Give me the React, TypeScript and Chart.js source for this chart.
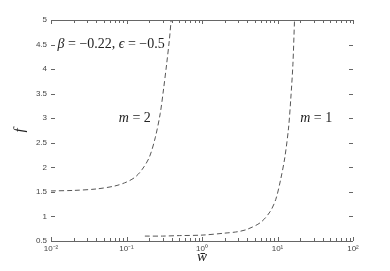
import React, { useEffect, useRef } from "react";
import { Chart, registerables } from "chart.js";

Chart.register(...registerables);

const m2W = [0.01, 0.02, 0.04, 0.07, 0.1, 0.13, 0.16, 0.2, 0.24, 0.28, 0.31, 0.34, 0.37, 0.39];
const m2F = [1.52, 1.53, 1.56, 1.62, 1.7, 1.8, 1.95, 2.2, 2.6, 3.1, 3.6, 4.1, 4.6, 5.0];

const m1W = [0.175, 0.3, 0.5, 1, 2, 3, 4, 6, 8, 9.5, 11, 12.5, 14, 15, 16, 16.8];
const m1F = [0.6, 0.6, 0.61, 0.62, 0.66, 0.69, 0.74, 0.88, 1.1, 1.35, 1.75, 2.2, 2.8, 3.4, 4.1, 5.0];

const yTicks = [0.5, 1, 1.5, 2, 2.5, 3, 3.5, 4, 4.5, 5];
const xDecades = [0.01, 0.1, 1, 10, 100];
const xDecadeLabels = ["10\u207B\u00B2", "10\u207B\u00B9", "10\u2070", "10\u00B9", "10\u00B2"];

const annotations = [
  { w: 0.0122, f: 4.5, parts: [["\u03B2", true], [" = \u22120.22, ", false], ["\u03F5", true], [" = \u22120.5", false]] },
  { w: 0.079, f: 3, parts: [["m", true], [" = 2", false]] },
  { w: 20, f: 3, parts: [["m", true], [" = 1", false]] },
];

const LINE = "#555";

const framePlugin = {
  id: "frame",
  afterDraw(chart: any) {
    const { ctx, chartArea } = chart;
    const xs = chart.scales.x;
    const ys = chart.scales.y;
    const { left, right, top, bottom } = chartArea;
    ctx.save();
    ctx.strokeStyle = "#666";
    ctx.lineWidth = 1;
    ctx.beginPath();
    ctx.moveTo(left, Math.round(bottom) + 0.5);
    ctx.lineTo(right, Math.round(bottom) + 0.5);
    ctx.moveTo(left, Math.round(top) + 0.5);
    ctx.lineTo(right, Math.round(top) + 0.5);
    for (let d = -2; d < 2; d++) {
      for (let k = 1; k <= 10; k++) {
        const v = k * Math.pow(10, d);
        const px = Math.round(xs.getPixelForValue(v)) + 0.5;
        const len = k === 1 || k === 10 ? 4 : 3;
        ctx.moveTo(px, bottom);
        ctx.lineTo(px, bottom - len);
        ctx.moveTo(px, top);
        ctx.lineTo(px, top + len);
      }
    }
    for (const t of yTicks) {
      const py = Math.round(ys.getPixelForValue(t)) + 0.5;
      ctx.moveTo(left, py);
      ctx.lineTo(left + 4, py);
      ctx.moveTo(right, py);
      ctx.lineTo(right - 4, py);
    }
    ctx.stroke();

    ctx.fillStyle = "#222";
    ctx.textBaseline = "middle";
    for (const a of annotations) {
      let x = xs.getPixelForValue(a.w);
      const y = ys.getPixelForValue(a.f);
      for (const [txt, it] of a.parts as any) {
        ctx.font = (it ? "italic " : "") + "14px 'Liberation Serif'";
        ctx.fillText(txt, x, y);
        x += ctx.measureText(txt).width;
      }
    }
    ctx.restore();
  },
};

export default function App() {
  const ref = useRef<HTMLCanvasElement>(null);
  useEffect(() => {
    const canvas = ref.current!;
    const chart = new Chart(canvas, {
      type: "line",
      data: {
        datasets: [
          {
            label: "m=2",
            data: m2W.map((w, i) => ({ x: w, y: m2F[i] })),
            borderColor: LINE,
            borderWidth: 1,
            borderDash: [5, 3],
            pointRadius: 0,
            fill: false,
            tension: 0.3,
          },
          {
            label: "m=1",
            data: m1W.map((w, i) => ({ x: w, y: m1F[i] })),
            borderColor: LINE,
            borderWidth: 1,
            borderDash: [5, 3],
            pointRadius: 0,
            fill: false,
            tension: 0.3,
          },
        ],
      },
      options: {
        animation: false,
        responsive: false,
        maintainAspectRatio: false,
        layout: { padding: { top: 20, right: 37, left: 0, bottom: 0 } },
        plugins: { legend: { display: false }, tooltip: { enabled: false } },
        scales: {
          x: {
            type: "logarithmic",
            min: 0.01,
            max: 100,
            grid: { display: false, drawTicks: false },
            border: { display: false },
            afterBuildTicks: (s: any) => {
              s.ticks = xDecades.map((v) => ({ value: v }));
            },
            afterFit: (s: any) => {
              s.height = 30;
            },
            ticks: {
              autoSkip: false,
              maxRotation: 0,
              padding: 3,
              color: "#444",
              font: { family: "'Liberation Sans'", size: 8 },
              callback: (v: any) => {
                const i = xDecades.findIndex((d) => Math.abs(d - v) / d < 1e-6);
                return i >= 0 ? xDecadeLabels[i] : "";
              },
            },
            title: {
              display: true,
              text: "w\u0304",
              color: "#222",
              font: { family: "'Liberation Serif'", size: 15, style: "italic" },
              padding: { top: 0, bottom: 5 },
            },
          },
          y: {
            type: "linear",
            min: 0.5,
            max: 5,
            grid: { display: false, drawTicks: false },
            border: { display: false },
            afterBuildTicks: (s: any) => {
              s.ticks = yTicks.map((v) => ({ value: v }));
            },
            afterFit: (s: any) => {
              s.width = 51;
            },
            ticks: {
              padding: 4,
              color: "#444",
              font: { family: "'Liberation Sans'", size: 8 },
              callback: (v: any) => String(v),
            },
            title: {
              display: true,
              text: "f",
              color: "#222",
              font: { family: "'Liberation Serif'", size: 15, style: "italic" },
              padding: { top: 11, bottom: 0 },
            },
          },
        },
      },
      plugins: [framePlugin],
    } as any);
    return () => chart.destroy();
  }, []);
  return (
    <div style={{ position: "absolute", left: 0, top: 0, width: 390, height: 271, background: "#fff" }}>
      <canvas ref={ref} width={390} height={271} style={{ display: "block" }} />
    </div>
  );
}
